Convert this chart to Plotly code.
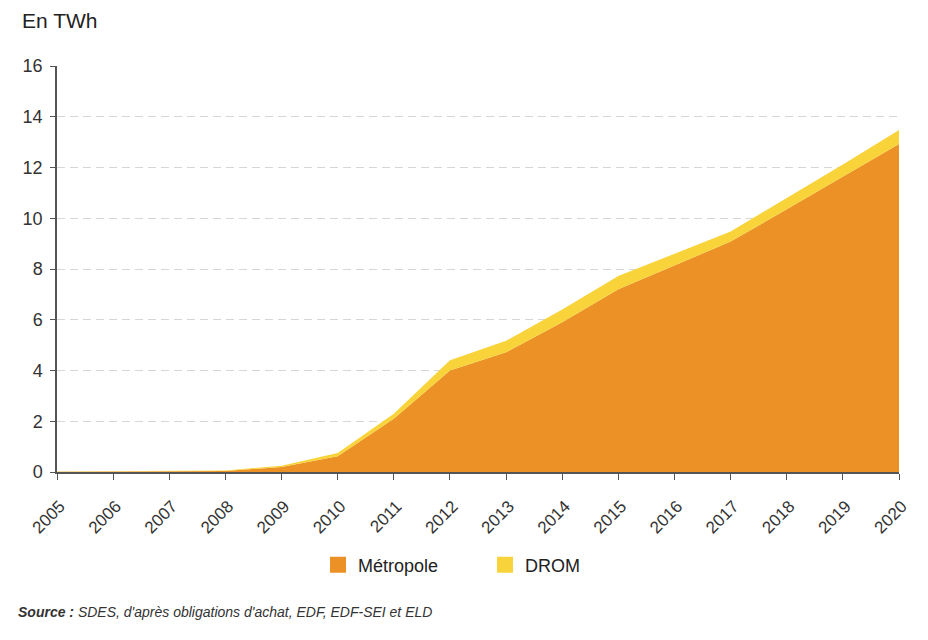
import plotly.graph_objects as go

years = list(range(2005, 2021))
metropole = [0.01, 0.02, 0.03, 0.04, 0.20, 0.62, 2.10, 4.00, 4.72, 5.90, 7.20, 8.13, 9.08, 10.35, 11.65, 12.93]
drom = [0.005, 0.005, 0.01, 0.02, 0.05, 0.13, 0.20, 0.40, 0.45, 0.50, 0.52, 0.48, 0.40, 0.45, 0.47, 0.55]
y_ticks = [0, 2, 4, 6, 8, 10, 12, 14, 16]

ORANGE = "#EC9125"
YELLOW = "#F8D43A"
FONT = "Liberation Sans"

# page has an 8px body margin; figure drawn at (8, 8)
W, H = 912, 624
L, T = 49, 58
PW, PH = 842, 406
R = W - L - PW
B = H - T - PH

fig = go.Figure()
fig.add_trace(go.Scatter(x=years, y=metropole, name="Métropole", mode="lines",
                         line=dict(width=0, color=ORANGE), fillcolor=ORANGE,
                         stackgroup="one", showlegend=False))
fig.add_trace(go.Scatter(x=years, y=drom, name="DROM", mode="lines",
                         line=dict(width=0, color=YELLOW), fillcolor=YELLOW,
                         stackgroup="one", showlegend=False))
# legend entries as square markers
fig.add_trace(go.Scatter(x=[None], y=[None], name="Métropole", mode="markers",
                         marker=dict(symbol="square", size=16, color=ORANGE)))
fig.add_trace(go.Scatter(x=[None], y=[None], name="DROM", mode="markers",
                         marker=dict(symbol="square", size=16, color=YELLOW)))

def px_to_paper(px, py):
    # px, py are page coordinates
    fx, fy = px - 8, py - 8
    return (fx - L) / PW, (T + PH - fy) / PH

lx, ly = px_to_paper(318, 565)
ax, ay = px_to_paper(21, 8)
sx, sy = px_to_paper(16, 612)

fig.update_layout(
    width=W, height=H,
    margin=dict(l=L, r=R, t=T, b=B, autoexpand=False),
    paper_bgcolor="white", plot_bgcolor="white",
    font=dict(family=FONT, size=16, color="#333333"),
    showlegend=True,
    legend=dict(orientation="h", x=lx, xanchor="left", y=ly, yanchor="middle",
                font=dict(size=18, color="#222222"), itemwidth=30,
                traceorder="normal", entrywidth=122, entrywidthmode="pixels",
                bgcolor="rgba(0,0,0,0)"),
    xaxis=dict(range=[2005, 2020], tickmode="array", tickvals=years,
               ticktext=[str(y) for y in years], tickangle=-45,
               showline=True, linecolor="#555555", linewidth=1.5,
               ticks="outside", ticklen=6, tickcolor="#555555",
               ticklabelstandoff=10, ticklabelshift=3, automargin=False,
               showgrid=False, zeroline=False, tickfont=dict(size=17)),
    yaxis=dict(range=[0, 16], tickmode="array", tickvals=y_ticks,
               showline=True, linecolor="#555555", linewidth=1.5,
               ticks="outside", ticklen=5, tickcolor="#555555",
               ticklabelstandoff=4, automargin=False,
               showgrid=True, gridcolor="#d6d6d6", griddash="8px,5px", gridwidth=1,
               zeroline=False, tickfont=dict(size=18)),
    annotations=[
        dict(text="En TWh", x=ax, y=ay, xref="paper", yref="paper", showarrow=False,
             font=dict(size=21, color="#222222"), xanchor="left", yanchor="top",
             borderpad=0),
        dict(text="<b><i>Source :</i></b><i> SDES, d'après obligations d'achat, EDF, EDF-SEI et ELD</i>",
             x=sx, y=sy, xref="paper", yref="paper", showarrow=False,
             font=dict(size=14, color="#333333"), xanchor="left", yanchor="middle"),
    ],
)

fig.write_html("out.html")
